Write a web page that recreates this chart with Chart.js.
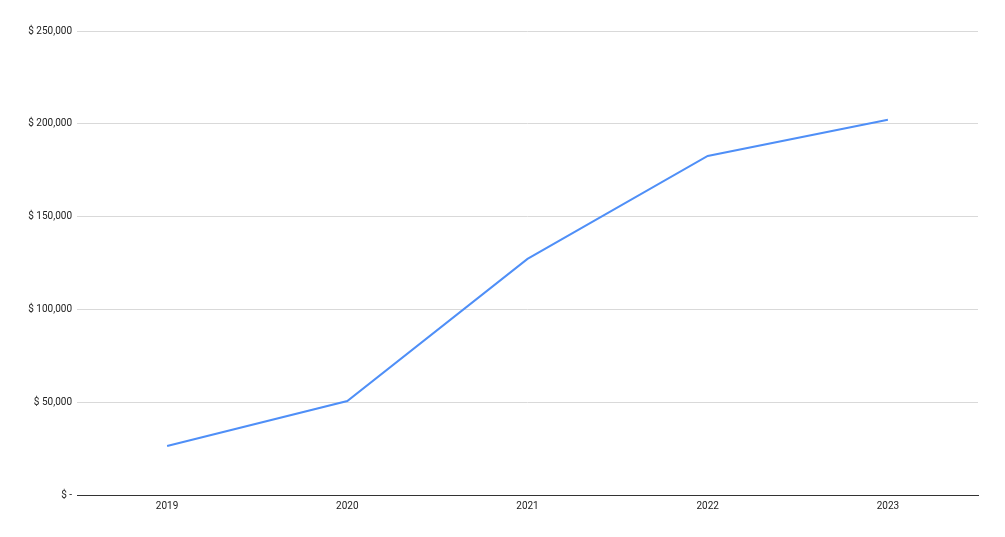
<!DOCTYPE html>
<html>
<head>
<meta charset="utf-8">
<script src="https://cdn.jsdelivr.net/npm/chart.js@4"></script>
<style>
  html, body { margin: 0; padding: 0; background: #fff; }
  #wrap { width: 1005px; height: 537px; }
</style>
</head>
<body>
<div id="wrap"><canvas id="revenueChart"></canvas></div>
<script>
const years = ['2019', '2020', '2021', '2022', '2023'];
const revenue = [26400, 50600, 127200, 182700, 202200];
const yTicks = [0, 50000, 100000, 150000, 200000, 250000];

function money(v) {
    if (v === 0) return '$ -';
    return '$ ' + v.toLocaleString('en-US');
}

document.addEventListener('DOMContentLoaded', function() {
    Chart.defaults.font.family = 'Roboto, Arial, sans-serif';
    Chart.defaults.font.size = 10;
    Chart.defaults.color = '#222';

    new Chart(document.getElementById('revenueChart'), {
        type: 'line',
        data: {
            labels: years,
            datasets: [{
                label: 'Revenue',
                data: revenue,
                borderColor: '#4f8ff7',
                borderWidth: 2,
                pointRadius: 0,
                tension: 0
            }]
        },
        options: {
            responsive: true,
            maintainAspectRatio: false,
            animation: false,
            layout: { padding: { top: 31, right: 27, left: 0, bottom: 0 } },
            plugins: {
                legend: { display: false },
                tooltip: { enabled: false }
            },
            scales: {
                x: {
                    offset: true,
                    grid: { display: false, drawTicks: false },
                    border: { color: '#333', width: 1 },
                    ticks: { padding: 5, maxRotation: 0 },
                    afterFit: function(scale) { scale.height = 42; }
                },
                y: {
                    min: 0,
                    max: 250000,
                    afterBuildTicks: function(scale) {
                        scale.ticks = yTicks.map(v => ({ value: v }));
                    },
                    grid: { color: '#d9d9d9', drawTicks: false },
                    border: { display: false },
                    ticks: { padding: 5, callback: v => money(v) },
                    afterFit: function(scale) { scale.width = 77; }
                }
            }
        }
    });
});
</script>
</body>
</html>
